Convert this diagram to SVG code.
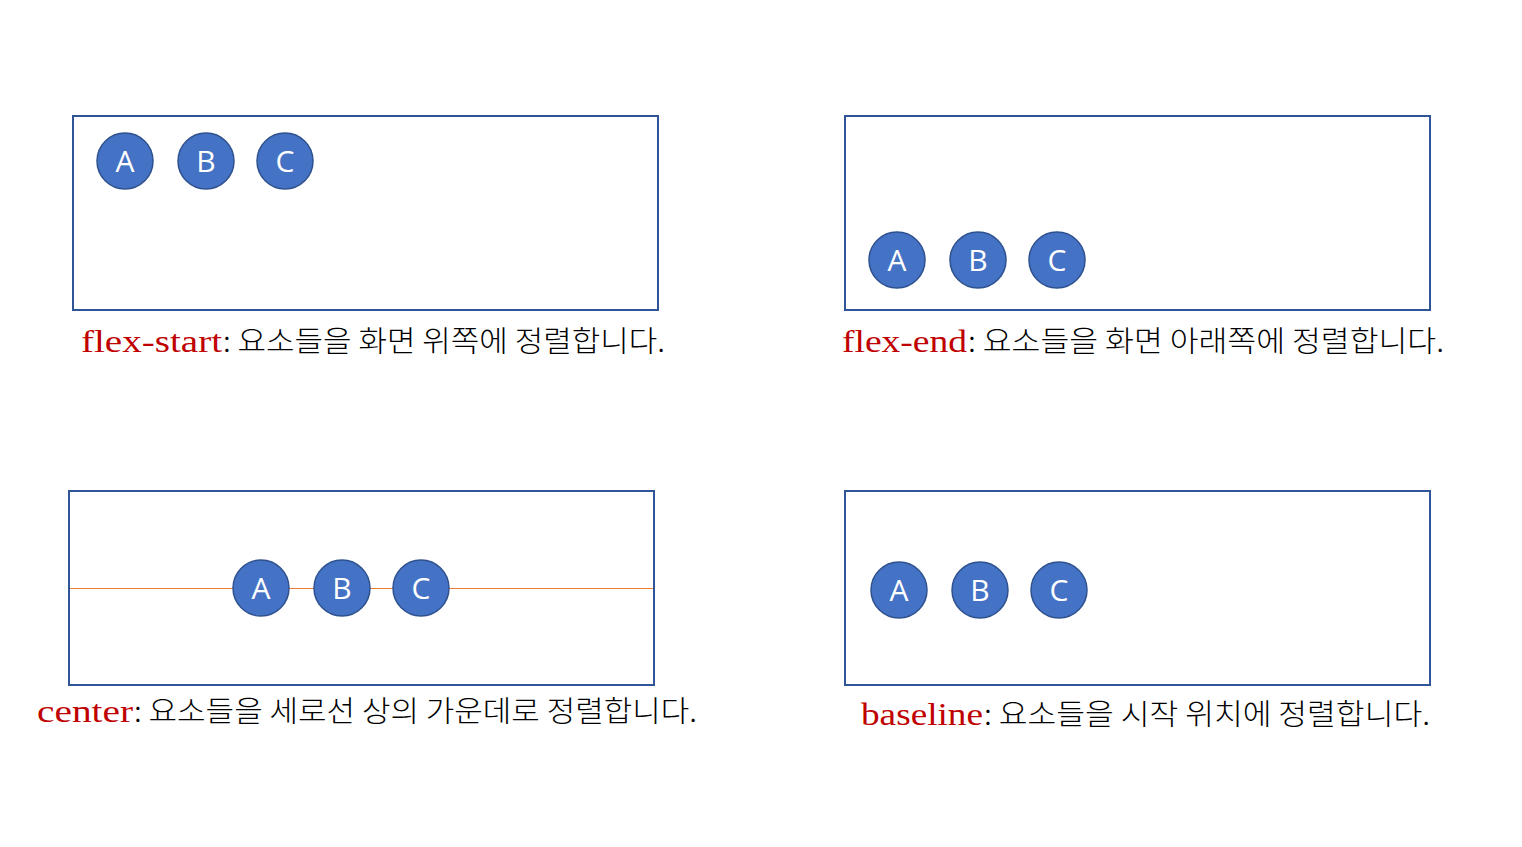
<svg xmlns="http://www.w3.org/2000/svg" width="1522" height="847" viewBox="0 0 1522 847">
<style>
.box{fill:#fff;stroke:#2F5597;stroke-width:2}
.c{fill:#4472C4;stroke:#2F528F;stroke-width:1.5}
.ct{fill:#fff;font-family:"Open Sans","Noto Sans",sans-serif;font-size:30px;text-anchor:middle}
.red{fill:#C00000;font-family:"Liberation Serif","Noto Serif CJK KR",serif;font-size:32px}
.blk{fill:#000;font-family:"Noto Sans CJK KR",sans-serif;font-size:29px;font-weight:300}
.line{stroke:#ED7D31;stroke-width:1}
</style>
<rect width="1522" height="847" fill="#fff"/>
<g id="panel-flex-start">
<rect class="box" x="73" y="116" width="585" height="194"/>
<g id="fs-A"><circle class="c" cx="125" cy="161" r="28"/><text class="ct" x="125" y="172">A</text></g>
<g id="fs-B"><circle class="c" cx="206" cy="161" r="28"/><text class="ct" x="206" y="172">B</text></g>
<g id="fs-C"><circle class="c" cx="285" cy="161" r="28"/><text class="ct" x="285" y="172">C</text></g>
<text class="red" x="81" y="352" textLength="141" lengthAdjust="spacingAndGlyphs">flex-start</text>
<text class="blk" x="223" y="352" textLength="442" lengthAdjust="spacingAndGlyphs">: 요소들을 화면 위쪽에 정렬합니다.</text>
</g>
<g id="panel-flex-end">
<rect class="box" x="845" y="116" width="585" height="194"/>
<g id="fe-A"><circle class="c" cx="897" cy="260" r="28"/><text class="ct" x="897" y="271">A</text></g>
<g id="fe-B"><circle class="c" cx="978" cy="260" r="28"/><text class="ct" x="978" y="271">B</text></g>
<g id="fe-C"><circle class="c" cx="1057" cy="260" r="28"/><text class="ct" x="1057" y="271">C</text></g>
<text class="red" x="842" y="352" textLength="125" lengthAdjust="spacingAndGlyphs">flex-end</text>
<text class="blk" x="968" y="352" textLength="476" lengthAdjust="spacingAndGlyphs">: 요소들을 화면 아래쪽에 정렬합니다.</text>
</g>
<g id="panel-center">
<rect class="box" x="69" y="491" width="585" height="194"/>
<g id="connectors"><line class="line" x1="70" y1="588.5" x2="653" y2="588.5"/></g>
<g id="ce-A"><circle class="c" cx="261" cy="588" r="28"/><text class="ct" x="261" y="599">A</text></g>
<g id="ce-B"><circle class="c" cx="342" cy="588" r="28"/><text class="ct" x="342" y="599">B</text></g>
<g id="ce-C"><circle class="c" cx="421" cy="588" r="28"/><text class="ct" x="421" y="599">C</text></g>
<text class="red" x="37" y="722" textLength="96" lengthAdjust="spacingAndGlyphs">center</text>
<text class="blk" x="134" y="722" textLength="563" lengthAdjust="spacingAndGlyphs">: 요소들을 세로선 상의 가운데로 정렬합니다.</text>
</g>
<g id="panel-baseline">
<rect class="box" x="845" y="491" width="585" height="194"/>
<g id="bl-A"><circle class="c" cx="899" cy="590" r="28"/><text class="ct" x="899" y="601">A</text></g>
<g id="bl-B"><circle class="c" cx="980" cy="590" r="28"/><text class="ct" x="980" y="601">B</text></g>
<g id="bl-C"><circle class="c" cx="1059" cy="590" r="28"/><text class="ct" x="1059" y="601">C</text></g>
<text class="red" x="861" y="725" textLength="122" lengthAdjust="spacingAndGlyphs">baseline</text>
<text class="blk" x="984" y="725" textLength="446" lengthAdjust="spacingAndGlyphs">: 요소들을 시작 위치에 정렬합니다.</text>
</g>
</svg>
